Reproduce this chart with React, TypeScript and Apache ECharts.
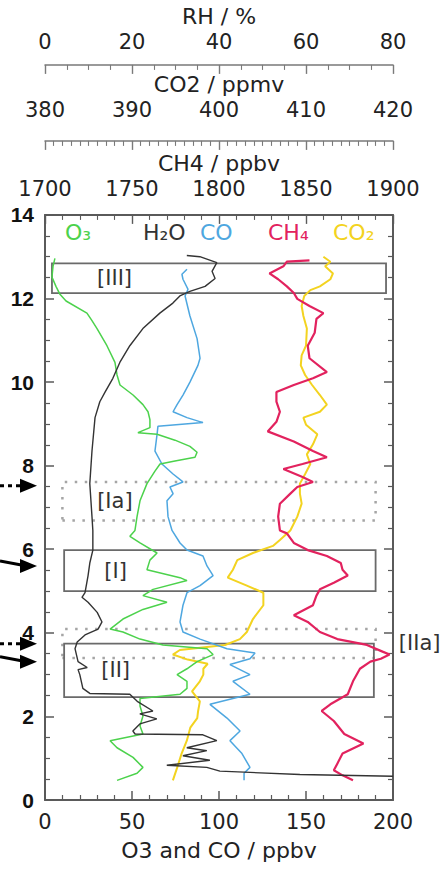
import { useEffect, useRef } from "react";
import * as echarts from "echarts";

// ---------------- data ----------------
const o3Alt = [12.96, 12.77, 12.51, 12.29, 12.1, 11.94, 11.65, 11.47, 11.28, 10.87, 10.47, 10.17, 9.93, 9.69, 9.46, 9.29, 9.1, 8.91, 8.79, 8.75, 8.61, 8.46, 8.32, 8.2, 8.11, 8.04, 7.87, 7.57, 7.16, 6.78, 6.45, 6.31, 6.15, 5.91, 5.74, 5.51, 5.32, 5.25, 5.04, 4.89, 4.73, 4.56, 4.33, 4.09, 4.02, 3.85, 3.71, 3.62, 3.48, 3.31, 3.14, 3.0, 2.84, 2.67, 2.53, 2.43, 2.25, 2.01, 1.77, 1.58, 1.42, 1.25, 1.02, 0.78, 0.64, 0.47];
const o3Ppbv = [5.7, 4.6, 4.0, 6.3, 8.6, 12.1, 24.1, 27.0, 29.9, 35.6, 40.2, 41.4, 43.1, 50.6, 56.3, 59.2, 60.3, 60.3, 53.4, 64.4, 74.7, 83.3, 87.4, 86.2, 74.7, 66.1, 63.2, 58.6, 54.6, 52.9, 51.7, 48.8, 54.6, 64.4, 60.3, 58.6, 77.6, 81.6, 62.1, 56.3, 70.1, 56.3, 44.8, 37.4, 44.8, 54.6, 67.8, 93.1, 96.6, 87.4, 81.6, 75.9, 81.6, 81.6, 77.6, 54.6, 54.6, 56.3, 54.6, 56.3, 37.4, 41.4, 50.6, 56.3, 52.9, 41.4];

const h2oAlt = [13.03, 13.0, 12.86, 12.65, 12.48, 12.29, 12.17, 12.06, 11.89, 11.65, 11.28, 10.87, 10.47, 10.09, 9.76, 9.53, 9.15, 8.35, 7.57, 6.78, 6.45, 5.98, 5.67, 5.37, 4.96, 4.85, 4.73, 4.49, 4.26, 4.09, 3.95, 3.78, 3.62, 3.31, 3.17, 3.12, 3.0, 2.67, 2.55, 2.53, 2.36, 2.13, 2.06, 1.94, 1.82, 1.65, 1.58, 1.56, 1.42, 1.25, 1.18, 1.06, 0.95, 0.83, 0.78, 0.69, 0.61, 0.57];
const h2oRH = [32.6, 35.6, 39.5, 38.4, 39.1, 36.8, 33.3, 31.0, 29.4, 26.4, 22.5, 19.5, 17.2, 15.6, 13.8, 12.6, 11.5, 10.8, 10.3, 10.8, 11.0, 11.0, 10.3, 9.9, 9.2, 8.5, 9.9, 12.0, 13.1, 12.2, 9.2, 7.4, 6.9, 7.6, 9.7, 7.6, 8.0, 8.7, 10.3, 19.5, 21.2, 24.8, 21.8, 25.7, 21.8, 20.2, 20.7, 36.3, 39.5, 32.6, 37.2, 31.7, 37.9, 28.0, 37.2, 40.2, 58.6, 80];

const coAlt = [12.7, 12.58, 12.46, 12.22, 12.06, 11.58, 11.04, 10.57, 10.4, 10.0, 9.69, 9.46, 9.29, 9.15, 9.03, 8.94, 8.75, 8.35, 8.04, 7.8, 7.61, 7.49, 7.33, 7.16, 6.78, 6.45, 6.15, 5.98, 5.84, 5.6, 5.37, 5.13, 4.96, 4.66, 4.26, 4.02, 3.85, 3.62, 3.52, 3.38, 3.24, 3.0, 2.84, 2.53, 2.29, 1.96, 1.65, 1.42, 1.11, 0.78, 0.64, 0.47];
const coPpbv = [81.6, 78.7, 79.3, 82.2, 80.5, 83.3, 87.4, 89.1, 87.9, 83.3, 79.3, 75.9, 73.6, 81.6, 90.8, 64.9, 64.4, 63.2, 67.2, 73.6, 79.3, 71.8, 73.6, 70.1, 70.7, 73.0, 77.6, 81.6, 90.8, 93.1, 96.6, 89.1, 81.6, 79.3, 77.6, 79.3, 89.1, 104.6, 120.7, 117.8, 106.3, 117.8, 108.0, 117.8, 94.8, 104.6, 112.1, 106.3, 113.2, 117.8, 114.4, 114.4];

const ch4Alt = [12.91, 12.88, 12.77, 12.6, 12.46, 12.29, 12.13, 11.99, 11.82, 11.65, 11.51, 11.18, 10.87, 10.57, 10.24, 10.09, 9.93, 9.76, 9.53, 9.29, 9.05, 8.82, 8.58, 8.35, 8.2, 8.04, 7.92, 7.73, 7.61, 7.49, 7.33, 7.09, 6.78, 6.45, 6.38, 6.15, 5.98, 5.84, 5.67, 5.51, 5.37, 5.2, 5.04, 4.89, 4.66, 4.42, 4.26, 4.02, 3.85, 3.71, 3.55, 3.48, 3.38, 3.31, 3.14, 2.84, 2.53, 2.29, 2.13, 1.89, 1.58, 1.35, 1.11, 0.87, 0.71, 0.59, 0.47];
const ch4Ppbv = [1852, 1839, 1837, 1829, 1834, 1839, 1843, 1845, 1852, 1860, 1856, 1855, 1851, 1852, 1862, 1854, 1843, 1833, 1833, 1835, 1833, 1828, 1843, 1854, 1862, 1848, 1837, 1848, 1854, 1845, 1841, 1835, 1834, 1835, 1839, 1843, 1851, 1862, 1870, 1871, 1874, 1866, 1858, 1856, 1854, 1843, 1851, 1858, 1868, 1885, 1894, 1898, 1893, 1887, 1881, 1877, 1874, 1864, 1859, 1866, 1872, 1883, 1871, 1868, 1866, 1871, 1877];

const co2Alt = [13.0, 12.88, 12.77, 12.6, 12.46, 12.29, 12.2, 12.06, 11.82, 11.58, 11.28, 10.87, 10.64, 10.4, 10.17, 9.93, 9.69, 9.46, 9.29, 9.15, 8.98, 8.75, 8.51, 8.27, 8.04, 7.8, 7.57, 7.33, 7.09, 6.78, 6.45, 6.22, 6.08, 5.91, 5.74, 5.51, 5.32, 5.13, 4.96, 4.66, 4.33, 4.02, 3.85, 3.71, 3.59, 3.48, 3.36, 3.26, 3.14, 3.0, 2.84, 2.6, 2.36, 2.13, 1.96, 1.73, 1.42, 1.11, 0.78, 0.47];
const co2Ppmv = [412.0, 412.8, 412.2, 413.1, 412.8, 411.6, 410.5, 409.8, 409.5, 409.7, 410.1, 410.0, 409.5, 409.4, 409.9, 410.7, 411.6, 412.4, 411.6, 409.7, 410.0, 411.3, 410.8, 410.1, 410.5, 409.9, 409.3, 409.3, 409.5, 409.0, 408.2, 407.0, 406.2, 403.9, 402.1, 401.6, 401.0, 403.2, 405.1, 405.1, 403.9, 403.2, 402.4, 400.7, 395.5, 394.7, 396.4, 398.7, 398.2, 398.2, 397.8, 396.9, 397.8, 397.6, 397.5, 396.7, 396.3, 395.7, 395.2, 394.7];

// layer boxes (O3/CO axis units, km)
const boxNames = ["[III]", "[Ia]", "[I]", "[IIa]", "[II]"];
const boxLeft = [4, 10, 11, 10, 11];
const boxRight = [196, 190, 190, 190, 189];
const boxBottom = [12.13, 6.69, 5.0, 3.4, 2.46];
const boxTop = [12.84, 7.61, 5.98, 4.09, 3.74];
const boxDotted = [false, true, false, true, false];

// arrows on the left (km)
const arrowAlt = [7.52, 5.6, 3.74, 3.31];
const arrowDotted = [true, false, true, false];

const legendNames = ["O₃", "H₂O", "CO", "CH₄", "CO₂"];

// ---------------- styles ----------------
const C_O3 = "#4cd24c";
const C_H2O = "#333333";
const C_CO = "#4ea7e0";
const C_CH4 = "#e2225e";
const C_CO2 = "#f3d320";
const legendColors = [C_O3, C_H2O, C_CO, C_CH4, C_CO2];
const legendX = [65, 143, 200, 268, 333];
const boxLabelDist = [46, 36, 41, 22, 38];

const FONT = "DejaVu Sans";
const frame = { color: "#5a5a5a", width: 2 };
const grayAxis = { color: "#7a7a7a", width: 1.5 };
const plain = (v: number) => String(v);

function pairs(xs: number[], ys: number[]) {
  return ys.map((y, i) => [xs[i], y]);
}

function topAxis(name: string, min: number, max: number, interval: number, minorSplit: number, offset: number, nameGap: number, margin: number, line: any) {
  return {
    type: "value",
    position: "top",
    offset,
    min,
    max,
    interval,
    name,
    nameLocation: "middle",
    nameGap,
    nameTextStyle: { fontFamily: FONT, fontSize: 22, color: "#222" },
    axisLine: { show: true, onZero: false, lineStyle: line },
    axisTick: { show: true, inside: true, length: 9, lineStyle: { color: line.color, width: 1.4 } },
    minorTick: { show: true, splitNumber: minorSplit, length: 5, lineStyle: { color: line.color, width: 1.1 } },
    axisLabel: { margin, fontFamily: FONT, fontSize: 21, color: "#222", formatter: plain },
    splitLine: { show: false },
    minorSplitLine: { show: false },
  };
}

function buildOption() {
  const lineBase = { type: "line", showSymbol: false, symbol: "none", smooth: false, silent: true, yAxisIndex: 0 };
  return {
    animation: false,
    backgroundColor: "#ffffff",
    grid: { left: 45, right: 49, top: 208, bottom: 72, containLabel: false },
    xAxis: [
      {
        type: "value",
        position: "bottom",
        min: 0,
        max: 200,
        interval: 50,
        name: "O3 and CO / ppbv",
        nameLocation: "middle",
        nameGap: 39,
        nameTextStyle: { fontFamily: FONT, fontSize: 22, color: "#222" },
        axisLine: { show: true, onZero: false, lineStyle: frame },
        axisTick: { show: true, inside: true, length: 9, lineStyle: { color: frame.color, width: 1.5 } },
        minorTick: { show: true, splitNumber: 5, length: 5, lineStyle: { color: frame.color, width: 1.2 } },
        axisLabel: { margin: 11, fontFamily: FONT, fontSize: 21, color: "#222", formatter: plain },
        splitLine: { show: false },
      },
      topAxis("CH4 / ppbv", 1700, 1900, 50, 5, 0, 40, 15, frame),
      topAxis("CO2 / ppmv", 380, 420, 10, 10, 74, 31, 20, grayAxis),
      topAxis("RH / %", 0, 80, 20, 4, 150, 29, 12, grayAxis),
    ],
    yAxis: [
      {
        type: "value",
        position: "left",
        min: 0,
        max: 14,
        interval: 2,
        axisLine: { show: true, onZero: false, lineStyle: frame },
        axisTick: { show: true, inside: true, length: 9, lineStyle: { color: frame.color, width: 1.5 } },
        minorTick: { show: true, splitNumber: 4, length: 5, lineStyle: { color: frame.color, width: 1.2 } },
        axisLabel: { margin: 11, fontFamily: "Liberation Sans", fontWeight: "bold", fontSize: 21, color: "#111", formatter: plain },
        splitLine: { show: false },
      },
      {
        type: "value",
        position: "right",
        min: 0,
        max: 14,
        interval: 2,
        axisLine: { show: true, onZero: false, lineStyle: frame },
        axisTick: { show: true, inside: true, length: 9, lineStyle: { color: frame.color, width: 1.5 } },
        minorTick: { show: true, splitNumber: 4, length: 5, lineStyle: { color: frame.color, width: 1.2 } },
        axisLabel: { show: false },
        splitLine: { show: false },
      },
    ],
    series: [
      {
        ...lineBase,
        name: "CO2",
        xAxisIndex: 2,
        data: pairs(co2Ppmv, co2Alt),
        lineStyle: { color: C_CO2, width: 2 },
        z: 2,
      },
      {
        ...lineBase,
        name: "CH4",
        xAxisIndex: 1,
        data: pairs(ch4Ppbv, ch4Alt),
        lineStyle: { color: C_CH4, width: 2.2 },
        z: 3,
      },
      {
        ...lineBase,
        name: "CO",
        xAxisIndex: 0,
        data: pairs(coPpbv, coAlt),
        lineStyle: { color: C_CO, width: 1.5 },
        z: 3,
      },
      {
        ...lineBase,
        name: "O3",
        xAxisIndex: 0,
        data: pairs(o3Ppbv, o3Alt),
        lineStyle: { color: C_O3, width: 1.5 },
        z: 3,
        markArea: {
          silent: true,
          z: 1,
          data: boxNames.map((n, i) => [
            {
              name: n,
              xAxis: boxLeft[i],
              yAxis: boxBottom[i],
              itemStyle: {
                color: "rgba(255,255,255,0)",
                borderColor: boxDotted[i] ? "#a5a5a5" : "#6a6a6a",
                borderWidth: boxDotted[i] ? 2.5 : 1.8,
                borderType: boxDotted[i] ? [2.5, 7.5] : "solid",
              },
              label: {
                show: true,
                position: n === "[IIa]" ? "right" : "insideLeft",
                distance: boxLabelDist[i],
                fontFamily: FONT,
                fontSize: 21,
                color: "#333",
              },
            },
            { xAxis: boxRight[i], yAxis: boxTop[i] },
          ]),
        },
      },
      {
        ...lineBase,
        name: "H2O",
        xAxisIndex: 3,
        data: pairs(h2oRH, h2oAlt),
        lineStyle: { color: C_H2O, width: 1.4 },
        z: 4,
      },
    ],
  };
}

export default function App() {
  const ref = useRef<HTMLDivElement>(null);
  useEffect(() => {
    document.body.style.margin = "0";
    const chart = echarts.init(ref.current as HTMLDivElement, null, { renderer: "svg" });
    chart.setOption(buildOption() as any);

    const yPix = (alt: number) => chart.convertToPixel({ yAxisIndex: 0 } as any, alt) as unknown as number;
    const graphics: any[] = [];
    const legendY = yPix(13.57);
    legendNames.forEach((t, i) => {
      graphics.push({
        type: "text",
        x: legendX[i],
        y: legendY,
        style: { text: t, fill: legendColors[i], font: `22px "${FONT}"`, verticalAlign: "middle", align: "left" },
        z: 10,
      });
    });
    arrowAlt.forEach((a, i) => {
      const y = yPix(a);
      const dotted = arrowDotted[i];
      graphics.push({
        type: "line",
        shape: { x1: 0, y1: dotted ? y : y - 5, x2: 24, y2: dotted ? y : y - 0.5 },
        style: { stroke: "#000", lineWidth: 3, lineDash: dotted ? [4, 4] : undefined },
        z: 10,
      });
      graphics.push({
        type: "polygon",
        shape: { points: [[20, y - 7], [37, y], [20, y + 7]] },
        style: { fill: "#000" },
        z: 10,
      });
    });
    chart.setOption({ graphic: graphics } as any);
    return () => chart.dispose();
  }, []);
  return <div ref={ref} style={{ width: 442, height: 872 }} />;
}
